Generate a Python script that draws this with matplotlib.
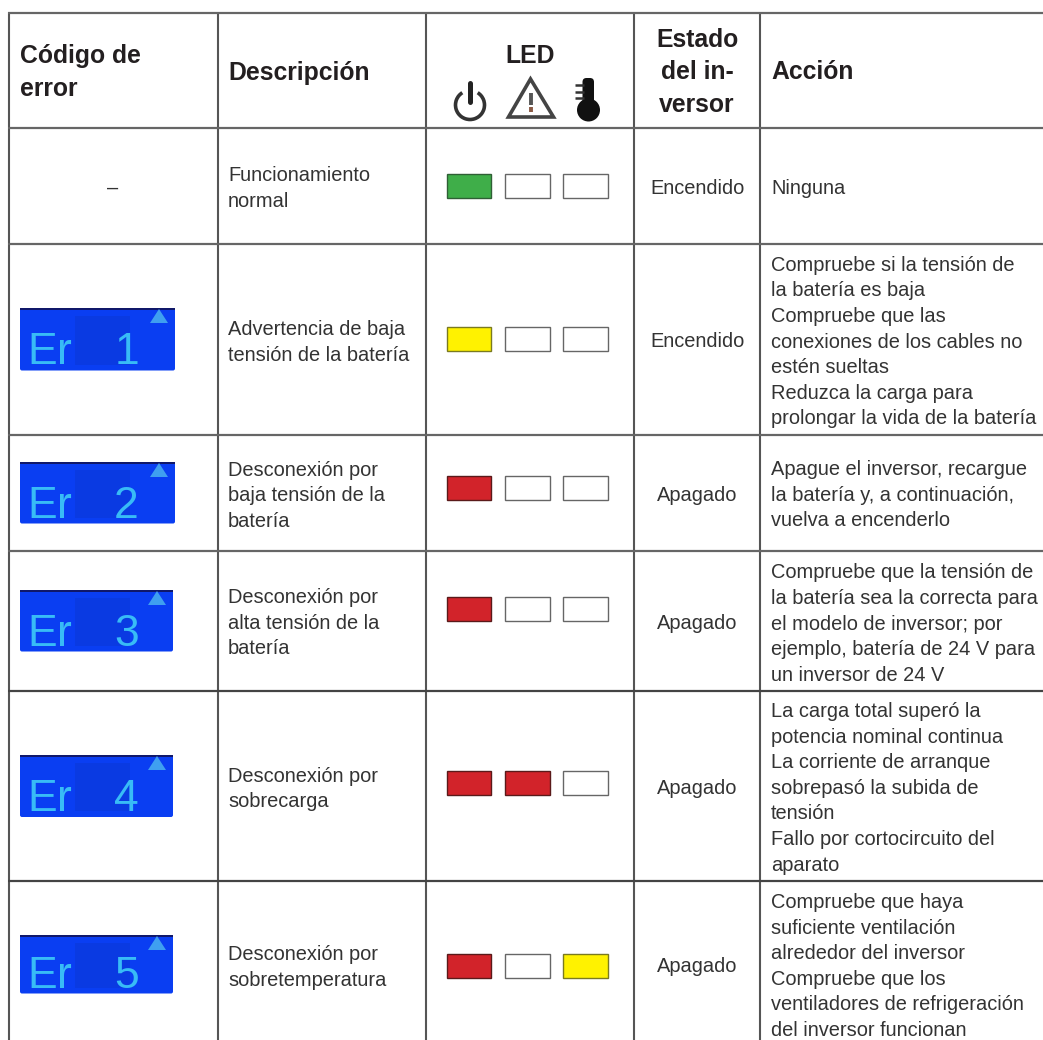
import matplotlib
matplotlib.use("Agg")
import matplotlib.pyplot as plt
from matplotlib.patches import Rectangle, FancyBboxPatch, Polygon, Circle, Arc

plt.rcParams['font.family'] = ['Liberation Sans', 'DejaVu Sans']

# ---- content ----
headers_codigo = ["Código de", "error"]
header_desc = "Descripción"
header_led = "LED"
headers_estado = ["Estado", "del in-", "versor"]
header_accion = "Acción"
codes = [None, "1", "2", "3", "4", "5"]
descriptions = [
    ["Funcionamiento", "normal"],
    ["Advertencia de baja", "tensión de la batería"],
    ["Desconexión por", "baja tensión de la", "batería"],
    ["Desconexión por", "alta tensión de la", "batería"],
    ["Desconexión por", "sobrecarga"],
    ["Desconexión por", "sobretemperatura"],
]
states = ["Encendido", "Encendido", "Apagado", "Apagado", "Apagado", "Apagado"]
actions = [
    ["Ninguna"],
    ["Compruebe si la tensión de", "la batería es baja", "Compruebe que las",
     "conexiones de los cables no", "estén sueltas", "Reduzca la carga para",
     "prolongar la vida de la batería"],
    ["Apague el inversor, recargue", "la batería y, a continuación,", "vuelva a encenderlo"],
    ["Compruebe que la tensión de", "la batería sea la correcta para",
     "el modelo de inversor; por", "ejemplo, batería de 24 V para", "un inversor de 24 V"],
    ["La carga total superó la", "potencia nominal continua", "La corriente de arranque",
     "sobrepasó la subida de", "tensión", "Fallo por cortocircuito del", "aparato"],
    ["Compruebe que haya", "suficiente ventilación", "alrededor del inversor",
     "Compruebe que los", "ventiladores de refrigeración", "del inversor funcionan"],
]
leds = [
    ["g", "o", "o"],
    ["y", "o", "o"],
    ["r", "o", "o"],
    ["r", "o", "o"],
    ["r", "r", "o"],
    ["r", "o", "y"],
]

# ---- layout (reference pixels) ----
W, H = 1043, 1040
col_x = [9, 218, 426, 634, 760]
row_y = [13, 127.5, 243.5, 434.5, 550.5, 690.5, 881]
row_col = ['#666666', '#666666', '#666666', '#666666', '#666666', '#444444', '#444444']
desc_base = [181, 335, 475.5, 603, 781.5, 960]
state_base = [194, 347, 501, 629, 794, 972]
action_base = [194, 270.7, 475, 578.3, 717, 908]
led_top = [174, 327, 476, 597, 771, 954]
led_x = [446.5, 505, 563]
led_w, led_h = 44.5, 23.5
lcd_box = [None, (20, 308, 155, 62.5), (20, 462, 155, 61.5), (20, 590, 153, 61.5),
           (20, 755, 153, 62), (20, 935, 153, 58.5)]
led_fill = {"g": "#3fae49", "y": "#fff200", "r": "#d2232a", "o": "#ffffff"}
led_edge = {"g": "#2f5f35", "y": "#7a7a20", "r": "#5a1a1a", "o": "#666666"}
TXT, BOLD = '#333333', '#231f20'
FS, FSB = 14.45, 17.8
LH = 25.6
LCD_BLUE, LCD_TEXT = '#0a3ef2', '#38bcf6'

fig = plt.figure(figsize=(W / 100, H / 100), dpi=100, facecolor='white')
ax = fig.add_axes([0, 0, 1, 1])
ax.set_xlim(0, W)
ax.set_ylim(H, 0)
ax.axis('off')


def body(x, y, s, ha='left'):
    ax.text(x, y, s, fontsize=FS, color=TXT, ha=ha, va='baseline')


def head(x, y, s, ha='left'):
    ax.text(x, y, s, fontsize=FSB, color=BOLD, ha=ha, va='baseline', fontweight='bold')


# grid
for x in col_x:
    ax.plot([x, x], [row_y[0] - 1, H], color='#555555', lw=1.5, solid_capstyle='butt')
for y, c in zip(row_y, row_col):
    ax.plot([col_x[0] - 1, W], [y, y], color=c, lw=1.6, solid_capstyle='butt')

# header
for s, y in zip(headers_codigo, [63, 96]):
    head(20, y, s)
head(228, 80, header_desc)
head(530, 63, header_led, ha='center')
for s, y in zip(headers_estado, [46.7, 79.3, 111.7]):
    head(697, y, s, ha='center')
head(771, 79.3, header_accion)

# header icons
G = '#333333'
ax.add_patch(Arc((470, 105), 29, 29, angle=0, theta1=-58, theta2=238, color=G, lw=2.6))
ax.plot([470, 470], [83, 102], color='#222222', lw=3.6, solid_capstyle='round')
ax.add_patch(Polygon([(530.5, 79), (508.5, 117), (553.5, 117)], closed=True, fill=False,
                     edgecolor='#444444', lw=2.6, joinstyle='miter'))
ax.plot([530.5, 530.5], [93, 105], color='#555555', lw=2.8, solid_capstyle='butt')
ax.plot([530.5, 530.5], [107, 112], color='#8a5a45', lw=2.8, solid_capstyle='butt')
ax.add_patch(FancyBboxPatch((582.5, 78), 11.5, 30, boxstyle='round,pad=0,rounding_size=4',
                            fc='#111111', ec='none'))
ax.add_patch(Circle((588.5, 110), 11.5, fc='#111111', ec='none'))
for y in [85, 92, 98]:
    ax.plot([575, 584], [y, y], color='#333333', lw=1.8, solid_capstyle='butt')

# rows
for i in range(6):
    for j, s in enumerate(descriptions[i]):
        body(228, desc_base[i] + j * LH, s)
    body(697, state_base[i], states[i], ha='center')
    for j, s in enumerate(actions[i]):
        body(771, action_base[i] + j * LH, s)
    for x, k in zip(led_x, leds[i]):
        ax.add_patch(Rectangle((x, led_top[i]), led_w, led_h, fc=led_fill[k],
                               ec=led_edge[k], lw=1.0))
    if codes[i] is None:
        body(113, 194, "–", ha='center')
    else:
        bx, by, bw, bh = lcd_box[i]
        ax.add_patch(FancyBboxPatch((bx, by), bw, bh,
                                    boxstyle='round,pad=0,rounding_size=2',
                                    fc=LCD_BLUE, ec='none'))
        ax.add_patch(Rectangle((bx, by), bw, 2.2, fc='#10186a', ec='none'))
        ax.add_patch(Rectangle((bx + 55, by + 8), 55, bh - 14, fc='#0a3ae2', ec='none'))
        tx = bx + bw - 16
        ax.add_patch(Polygon([(tx, by + 1), (tx - 9, by + 15), (tx + 9, by + 15)], closed=True,
                             fc='#3f9ff0', ec='none'))
        base = by + bh - 6
        ax.text(bx + 7, base, "E", fontsize=32, color=LCD_TEXT, va='baseline', ha='left')
        ax.text(bx + 37, base, "r", fontsize=32, color=LCD_TEXT, va='baseline', ha='left')
        ax.text(bx + 119, base, codes[i], fontsize=32, color=LCD_TEXT, va='baseline', ha='right')

fig.savefig('out.png', dpi=100, facecolor='white')
